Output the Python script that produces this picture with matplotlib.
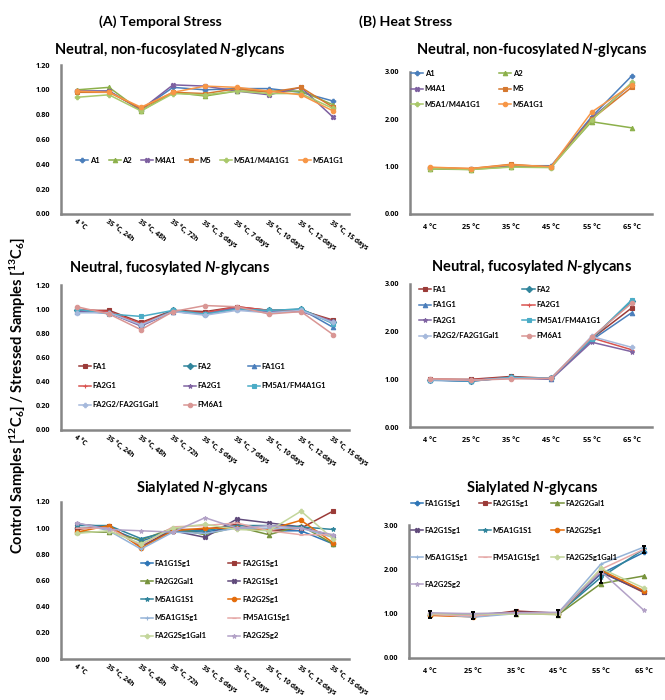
import matplotlib.pyplot as plt

plt.rcParams['font.family'] = ['Lato', 'DejaVu Sans']
plt.rcParams['font.weight'] = 'bold'
plt.rcParams['mathtext.fontset'] = 'custom'
plt.rcParams['mathtext.rm'] = 'Lato:bold'
plt.rcParams['mathtext.it'] = 'Lato:bold:italic'

# x categories
time_labels = ['4 °C', '35 °C, 24h', '35 °C, 48h', '35 °C, 72h', '35 °C, 5 days',
               '35 °C, 7 days', '35 °C, 10 days', '35 °C, 12 days', '35 °C, 15 days']
temp_labels = ['4 °C', '25 °C', '35 °C', '45 °C', '55 °C', '65 °C']

# neutral, non-fucosylated
nf_names = ['A1', 'A2', 'M4A1', 'M5', 'M5A1/M4A1G1', 'M5A1G1']
nf_colors = ['#4A7EBB', '#8CB04A', '#7D5FA0', '#D5782F', '#A9C86A', '#F79646']
nf_markers = ['P', '^', 'X', 's', 'P', 'o']
nf_time = [
    [0.99, 0.99, 0.84, 1.02, 1.00, 1.01, 1.01, 0.98, 0.91],
    [1.00, 1.02, 0.83, 0.98, 0.95, 0.99, 0.99, 0.99, 0.88],
    [0.99, 0.99, 0.84, 1.04, 1.03, 0.99, 0.96, 1.02, 0.78],
    [0.98, 0.98, 0.85, 0.98, 0.97, 1.01, 0.98, 1.02, 0.86],
    [0.94, 0.96, 0.83, 0.97, 0.96, 0.99, 0.97, 0.97, 0.85],
    [0.99, 0.98, 0.86, 0.98, 1.03, 1.02, 0.99, 0.96, 0.83],
]
nf_heat = [
    [0.97, 0.95, 1.02, 1.02, 2.05, 2.92],
    [0.95, 0.94, 1.00, 1.00, 1.95, 1.82],
    [0.97, 0.95, 1.03, 1.00, 2.02, 2.75],
    [0.98, 0.96, 1.05, 0.99, 2.00, 2.68],
    [0.96, 0.94, 0.99, 0.98, 1.98, 2.78],
    [0.99, 0.96, 1.04, 1.00, 2.15, 2.73],
]

# neutral, fucosylated
fu_names = ['FA1', 'FA2', 'FA1G1', 'FA2G1', 'FA2G1', 'FM5A1/FM4A1G1',
            'FA2G2/FA2G1Gal1', 'FM6A1']
fu_colors = ['#9B3B38', '#31859C', '#4A7EBB', '#D9534F', '#8064A2', '#4BACC6',
             '#A6B9DC', '#D99694']
fu_markers = ['s', 'D', '^', '+', '*', 's', 'P', 'o']
fu_time = [
    [0.99, 0.99, 0.89, 0.99, 0.98, 1.02, 0.99, 0.99, 0.91],
    [0.99, 0.97, 0.87, 0.99, 0.96, 1.01, 0.99, 1.00, 0.89],
    [0.98, 0.97, 0.87, 0.98, 0.96, 1.00, 0.98, 1.00, 0.85],
    [1.00, 0.98, 0.88, 0.98, 0.97, 1.02, 0.99, 0.99, 0.90],
    [0.98, 0.97, 0.86, 0.98, 0.96, 1.01, 0.98, 0.98, 0.90],
    [1.00, 0.96, 0.94, 0.99, 0.96, 1.00, 0.99, 1.00, 0.88],
    [0.97, 0.97, 0.87, 0.98, 0.95, 0.99, 0.97, 0.99, 0.89],
    [1.02, 0.96, 0.83, 0.98, 1.03, 1.02, 0.96, 0.98, 0.79],
]
fu_heat = [
    [1.00, 1.00, 1.06, 1.02, 1.85, 2.50],
    [0.99, 0.96, 1.04, 1.02, 1.85, 2.65],
    [0.98, 0.96, 1.04, 1.01, 1.82, 2.40],
    [1.00, 0.99, 1.04, 1.01, 1.87, 1.62],
    [0.99, 0.98, 1.03, 1.00, 1.78, 1.58],
    [0.99, 0.97, 1.04, 1.02, 1.85, 2.67],
    [0.99, 0.98, 1.02, 1.02, 1.90, 1.67],
    [1.01, 0.98, 1.01, 1.02, 1.88, 2.60],
]

# sialylated
si_names = ['FA1G1Sg1', 'FA2G1Sg1', 'FA2G2Gal1', 'FA2G1Sg1', 'M5A1G1S1', 'FA2G2Sg1',
            'M5A1G1Sg1', 'FM5A1G1Sg1', 'FA2G2Sg1Gal1', 'FA2G2Sg2']
si_colors = ['#2E75B6', '#9B3B38', '#77933C', '#604A7B', '#31859C', '#E46C0A',
             '#95B3D7', '#E6A9A8', '#C3D69B', '#B3A2C7']
si_markers = ['P', 's', '^', 'X', '*', 'o', '+', '_', 'P', '*']
si_time = [
    [1.00, 1.00, 0.90, 0.98, 0.97, 1.01, 0.98, 0.98, 0.88],
    [0.99, 1.02, 0.86, 0.99, 0.99, 1.03, 0.98, 1.00, 1.13],
    [0.97, 0.97, 0.91, 1.00, 0.95, 1.01, 0.95, 1.02, 0.88],
    [1.03, 1.01, 0.86, 0.98, 0.93, 1.07, 1.04, 1.01, 0.94],
    [1.02, 1.02, 0.92, 0.98, 0.98, 1.02, 1.02, 1.01, 0.99],
    [0.97, 1.02, 0.85, 0.98, 1.00, 1.00, 0.99, 1.06, 0.89],
    [1.04, 0.98, 0.84, 0.97, 0.96, 1.00, 1.00, 1.00, 0.93],
    [1.00, 1.00, 0.87, 1.01, 1.02, 1.04, 0.98, 0.95, 0.95],
    [0.96, 0.98, 0.88, 1.00, 1.03, 0.99, 0.98, 1.13, 0.92],
    [1.04, 0.99, 0.98, 0.97, 1.08, 1.00, 1.02, 1.00, 0.95],
]
si_heat = [
    [0.98, 0.95, 1.02, 1.00, 1.90, 2.38],
    [0.97, 0.94, 1.06, 1.01, 1.95, 1.48],
    [0.99, 1.00, 1.00, 0.98, 1.68, 1.85],
    [1.00, 0.98, 1.03, 1.02, 1.93, 1.50],
    [0.98, 0.96, 1.01, 1.00, 1.82, 2.45],
    [0.96, 0.93, 1.02, 0.99, 1.98, 1.52],
    [1.00, 0.92, 1.00, 1.02, 2.12, 2.50],
    [0.98, 0.95, 1.02, 1.00, 2.00, 2.45],
    [1.00, 0.99, 0.99, 0.99, 2.02, 1.58],
    [1.02, 1.00, 1.02, 1.03, 1.95, 1.08],
]
si_heat_err = [0.08, 0.08, 0.07, 0.08, 0.12, 0.08]  # error bars on M5A1G1S1

W, H = 665, 700
fig = plt.figure(figsize=(W / 100, H / 100), dpi=100)
TICK_FONT = ['Open Sans', 'DejaVu Sans']


def px_axes(left, top, right, bottom):
    return fig.add_axes([left / W, 1 - bottom / H, (right - left) / W, (bottom - top) / H])


def style(ax, ymax, step, fmt_labels, rotate):
    for s in ['top', 'right']:
        ax.spines[s].set_visible(False)
    for s in ['left', 'bottom']:
        ax.spines[s].set_color('#868686')
        ax.spines[s].set_linewidth(1.8)
    ax.set_ylim(0, ymax)
    ticks = [i * step for i in range(int(round(ymax / step)) + 1)]
    ax.set_yticks(ticks)
    ax.set_yticklabels(['%.2f' % t for t in ticks], fontsize=5.2, fontweight='bold',
                       family=TICK_FONT)
    ax.set_xlim(-0.5, len(fmt_labels) - 0.5)
    ax.set_xticks(range(len(fmt_labels)))
    if rotate:
        ax.set_xticklabels(fmt_labels, fontsize=4.9, fontweight='bold', rotation=-36,
                           ha='left', va='top', rotation_mode='anchor', family=TICK_FONT)
        ax.tick_params(axis='x', pad=3)
    else:
        ax.set_xticklabels(fmt_labels, fontsize=5.2, fontweight='bold', family=TICK_FONT)
        ax.tick_params(axis='x', pad=7)
    ax.tick_params(length=0)
    ax.tick_params(axis='y', pad=8)


def draw(ax, series, names, colors, markers):
    x = range(len(series[0]))
    for vals, name, c, m in zip(series, names, colors, markers):
        ax.plot(x, vals, color=c, marker=m, markersize=3.2, linewidth=1.1, label=name,
                markeredgewidth=0.8)


def legend(ax, ncol, x, y, colspace, rowspace):
    h, l = ax.get_legend_handles_labels()
    order = [i for c in range(ncol) for i in range(c, len(h), ncol)]
    ax.legend([h[i] for i in order], [l[i] for i in order], ncol=ncol, loc='upper left',
              bbox_to_anchor=(x / W, 1 - y / H), bbox_transform=fig.transFigure,
              frameon=False, fontsize=5.5, handlelength=1.6, handletextpad=0.2,
              columnspacing=colspace, labelspacing=rowspace, borderpad=0,
              borderaxespad=0)


# left column: temporal stress
ax1 = px_axes(61, 65, 349, 214)
draw(ax1, nf_time, nf_names, nf_colors, nf_markers)
style(ax1, 1.2, 0.2, time_labels, True)
legend(ax1, 6, 76, 157, 1.2, 0.5)

ax2 = px_axes(61, 285, 349, 430)
draw(ax2, fu_time, fu_names, fu_colors, fu_markers)
style(ax2, 1.2, 0.2, time_labels, True)
legend(ax2, 3, 79, 363, 3.2, 1.6)

ax3 = px_axes(61, 502, 349, 659)
draw(ax3, si_time, si_names, si_colors, si_markers)
style(ax3, 1.2, 0.2, time_labels, True)
legend(ax3, 2, 141, 560, 2.8, 1.45)

# right column: heat stress
ax4 = px_axes(410, 72, 652, 214)
draw(ax4, nf_heat, nf_names, nf_colors, nf_markers)
style(ax4, 3.0, 1.0, temp_labels, False)
legend(ax4, 2, 411, 70, 2.4, 1.1)

ax5 = px_axes(410, 284, 652, 427)
draw(ax5, fu_heat, fu_names, fu_colors, fu_markers)
style(ax5, 3.0, 1.0, temp_labels, False)
legend(ax5, 2, 419, 286, 3.0, 1.1)

ax6 = px_axes(409, 525, 665, 658)
draw(ax6, si_heat, si_names, si_colors, si_markers)
ax6.errorbar(range(len(temp_labels)), si_heat[4], yerr=si_heat_err, fmt='none',
             ecolor='black', elinewidth=1.4, capsize=1.5, capthick=1.4)
style(ax6, 3.0, 1.0, temp_labels, False)
legend(ax6, 3, 411, 500, 1.4, 2.6)

# titles
fig.text(160 / W, 1 - 22 / H, '(A) Temporal Stress', ha='center', va='center',
         fontsize=10.2, fontweight='bold')
fig.text(406 / W, 1 - 22 / H, '(B) Heat Stress', ha='center', va='center',
         fontsize=10.2, fontweight='bold')
sub = [
    (170, 50, r'Neutral, non-fucosylated $N$-glycans'),
    (532, 50, r'Neutral, non-fucosylated $N$-glycans'),
    (170, 268, r'Neutral, fucosylated $N$-glycans'),
    (532, 267, r'Neutral, fucosylated $N$-glycans'),
    (202, 488, r'Sialylated $N$-glycans'),
    (532, 488, r'Sialylated $N$-glycans'),
]
for x, y, t in sub:
    fig.text(x / W, 1 - y / H, t, ha='center', va='center', fontsize=10.5,
             fontweight='bold')

fig.text(18 / W, 1 - 395 / H,
         r'Control Samples [$^{12}$C$_{6}$] / Stressed Samples [$^{13}$C$_{6}$]',
         rotation=90, ha='center', va='center', fontsize=10.5, fontweight='bold')

fig.savefig('out.png', dpi=100)
